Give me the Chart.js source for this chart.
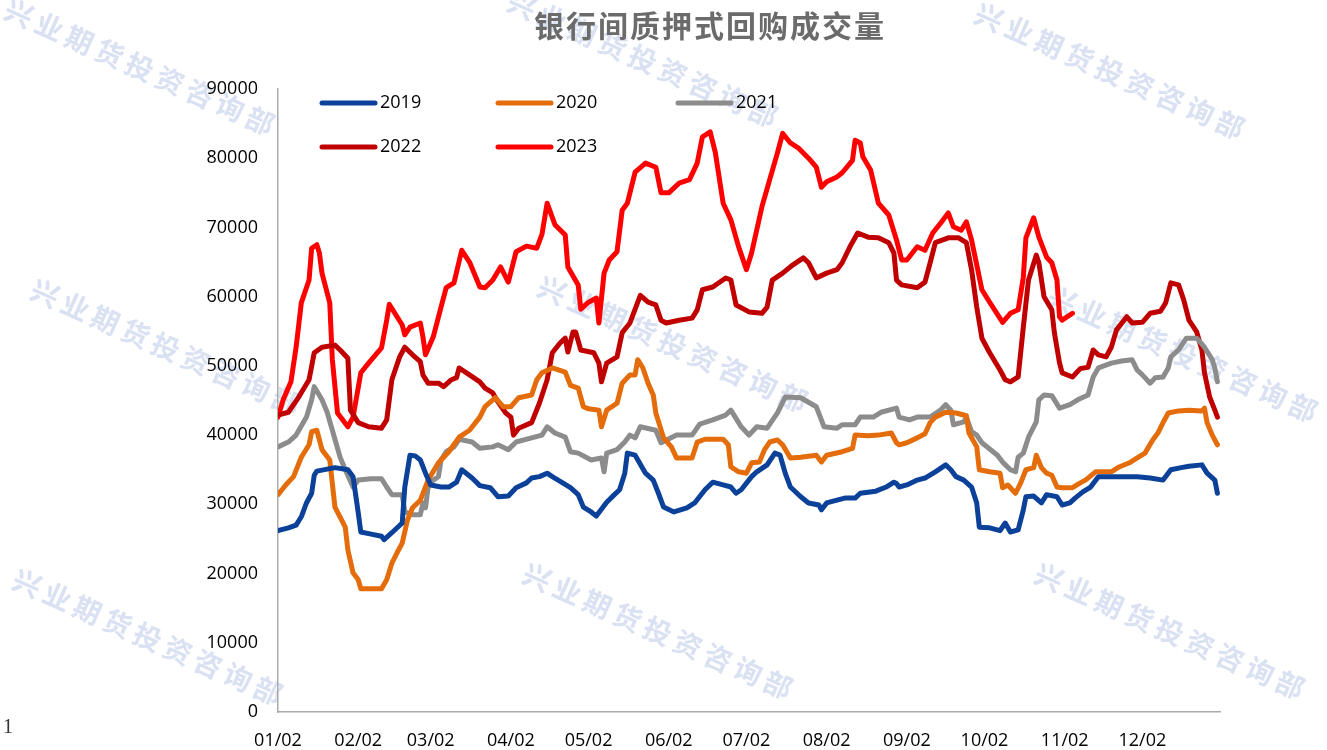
<!doctype html>
<html>
<head>
<meta charset="utf-8">
<title>银行间质押式回购成交量</title>
<script src="https://cdn.jsdelivr.net/npm/chart.js"></script>
<style>
  body { margin: 0; background: #fff; }
</style>
</head>
<body>
<canvas id="myChart" width="1327" height="750"></canvas>
<script>
// x = day of year (1 = 01/02), y = 成交量
const monthDays = [1, 32, 60, 91, 121, 152, 182, 213, 244, 274, 305, 335];
const monthLabels = ['01/02', '02/02', '03/02', '04/02', '05/02', '06/02', '07/02', '08/02', '09/02', '10/02', '11/02', '12/02'];
const yTicks = [0, 10000, 20000, 30000, 40000, 50000, 60000, 70000, 80000, 90000];

const days2019 = [1,5,8,10,12,14,15,16,23,28,30,32,33,37,41,42,45,49,50,52,54,56,58,60,64,67,70,72,76,79,83,86,90,93,97,99,102,105,107,111,114,117,119,122,124,128,131,133,135,136,139,143,146,148,150,154,159,162,166,169,173,176,178,180,184,186,190,193,195,197,199,203,206,210,211,213,217,220,224,226,232,236,239,240,241,244,248,251,255,259,261,263,266,269,271,272,276,280,282,284,287,289,290,293,296,298,302,304,307,309,312,315,318,322,327,333,338,343,346,350,353,358,360,363,364];
const vol2019 = [26200,26600,27000,28200,30200,31600,34200,34800,35300,35000,34000,28800,26000,25700,25400,24900,25900,27300,32500,37100,37000,36400,34500,32800,32500,32500,33200,35000,33800,32700,32400,31100,31200,32400,33100,33800,34000,34500,34000,33100,32400,31400,29600,28900,28300,30300,31400,32100,34500,37400,37100,34500,33500,31600,29600,28900,29500,30200,32100,33200,32800,32500,31600,32100,34000,34700,35700,37400,37100,34500,32500,31100,30200,29900,29200,30200,30600,30900,30900,31600,31900,32500,33200,33000,32500,32800,33500,33800,34700,35700,35000,34000,33500,32500,30200,26700,26600,26200,27300,26000,26300,29200,31100,31200,30200,31400,31100,29900,30200,30900,31800,32500,34000,34000,34000,34000,33800,33500,35000,35300,35500,35700,34500,33500,31600];

const days2020 = [1,4,7,10,13,14,16,18,21,23,27,28,30,32,33,41,43,45,47,49,51,53,56,59,63,67,71,75,79,81,85,88,91,94,99,101,103,107,112,114,117,119,121,125,126,128,132,134,137,139,140,142,144,146,147,150,153,155,161,163,166,173,175,176,179,182,184,187,189,191,194,196,199,203,209,211,213,219,223,224,229,233,238,240,241,244,248,251,253,255,259,263,267,268,271,272,276,280,281,283,286,288,290,293,294,296,298,300,302,304,308,311,313,317,323,326,330,333,336,339,341,343,345,349,353,358,359,360,362,364];
const vol2020 = [31400,32800,34000,36800,38600,40500,40700,37900,36400,29600,26700,23400,20100,19100,17800,17800,19100,21500,23000,24400,27700,29500,30600,33500,36000,37600,39700,40700,42600,44100,45400,44100,44100,45400,45800,48000,49000,49700,49100,47200,46800,44100,43800,43600,41200,43600,44600,47500,48700,48700,50900,49700,47500,45800,43200,39600,38300,36700,36700,39000,39400,39400,38600,35400,34700,34500,36000,36100,37900,39000,39300,38600,36700,36800,37100,36100,37100,37600,38100,40000,39900,40000,40300,38900,38600,38900,39600,40200,41800,42600,43300,43200,42800,40300,38300,35000,34700,34500,32400,32800,31600,33100,35000,35300,37100,35300,34500,34200,32500,32400,32400,33100,33500,34700,34700,35400,36000,36700,37400,39300,40300,41800,43200,43500,43600,43500,43900,41800,40000,38600];

const days2021 = [1,5,8,12,14,15,18,20,22,25,27,30,32,37,41,43,45,49,50,53,56,57,58,59,61,63,64,66,69,71,76,79,84,86,90,93,99,103,105,108,112,114,117,122,126,127,128,132,135,137,139,141,147,149,155,161,164,169,174,176,180,183,186,190,194,197,203,209,212,217,219,224,226,231,234,240,241,245,248,253,257,259,261,262,266,267,269,271,273,279,281,284,286,287,289,291,294,295,297,300,303,307,310,314,316,318,323,327,331,333,335,338,340,343,345,346,349,352,356,359,362,363,364];
const vol2021 = [38300,39000,40000,42600,45100,47000,45100,43300,40700,36800,35000,32500,33500,33700,33700,32500,31400,31400,28900,28500,28500,30200,29500,32500,33500,34000,36400,37600,38300,39400,39000,38100,38300,38600,37900,39000,39600,40000,41200,40300,39700,37600,37400,36400,36700,34700,37400,37900,39000,40000,39600,41200,40700,38900,40000,40000,41600,42200,42900,43600,41200,40000,41200,41000,43200,45500,45400,44100,41200,41000,41500,41500,42600,42600,43300,43900,42600,42200,42600,42600,43600,44400,43600,41500,41900,42600,40500,40000,38900,37100,36100,35000,34700,36800,37400,39700,41900,45100,45800,45700,43900,44400,45100,45800,48400,49700,50400,50700,50900,49400,48700,47500,48300,48400,49700,51300,52300,54000,54000,52700,50900,49700,47700];

const days2022 = [1,5,9,13,15,18,23,25,28,29,32,36,41,43,45,48,50,53,56,57,59,63,65,68,70,71,75,79,81,84,86,89,91,92,94,99,102,105,107,110,112,113,115,116,118,123,125,126,128,132,134,137,141,144,147,149,151,156,161,163,165,169,174,176,178,183,188,190,192,196,200,204,206,209,213,217,219,222,225,229,233,237,239,240,242,248,251,253,255,260,264,267,269,271,273,276,280,282,284,287,289,291,294,295,297,300,301,303,304,308,311,314,316,318,321,323,325,329,331,335,338,342,344,346,349,351,353,356,358,359,361,363,364];
const vol2022 = [42900,43300,45500,48000,51900,52700,53000,52300,51100,43600,41800,41200,41000,42200,48000,51300,52700,51600,50600,48700,47500,47500,47000,48000,48300,49700,48700,47700,46800,46100,44800,43200,42600,40000,41000,41800,44600,48000,51900,53300,54000,52000,54900,54900,52300,51900,50400,47700,50400,51300,54800,56200,60200,59200,58800,56600,56200,56600,56900,58100,61000,61400,62700,62400,58800,57800,57600,58500,62400,63400,64600,65600,64900,62700,63400,63900,64900,67200,69200,68600,68500,67800,66300,62400,61700,61300,62100,64900,67800,68500,68500,67800,63900,58500,54000,51900,49400,48000,47700,48400,55600,62400,66000,64900,60000,58100,54800,50400,49000,48400,49600,49800,52300,51600,51300,52700,55200,57100,56200,56300,57600,57900,59100,62000,61700,59500,56600,54900,52300,49000,45500,43600,42600];

const days2023 = [1,3,6,8,10,13,14,16,17,18,21,22,24,28,30,33,36,41,43,44,47,49,50,52,56,57,58,61,64,66,69,72,75,79,81,84,87,90,93,97,101,103,105,108,112,113,117,118,121,124,125,127,129,132,134,136,139,143,147,149,152,156,160,163,165,168,170,173,176,179,182,184,188,191,194,196,199,202,206,209,211,213,217,219,223,224,226,227,230,233,237,240,242,244,248,251,254,257,260,262,265,267,269,273,276,281,284,287,289,290,293,295,298,300,302,303,304,308];
const vol2023 = [42600,45100,47700,52700,59100,62400,67000,67500,66300,63400,59100,50900,43200,41200,42600,49000,50400,52600,56600,58900,57100,55900,54500,55600,56200,54200,51600,54200,58500,61300,62000,66700,65000,61400,61300,62400,64300,62100,66500,67300,67000,69000,73500,70400,68900,64300,61700,58200,59200,59800,56200,63400,65300,66500,72500,73500,78000,79300,78700,75000,75000,76400,76900,79300,83100,83800,80800,73500,71100,67200,63900,66300,73000,76900,80800,83600,82200,81500,80000,78700,75800,76600,77300,77900,79700,82600,82200,80200,78300,73500,71800,68200,65300,65300,67200,66700,69200,70600,72100,70100,69600,70800,68200,61000,59200,56300,57600,58100,62800,68500,71400,68600,65700,64900,62400,57100,56600,57600];

const seriesNames = ['2019', '2020', '2021', '2022', '2023'];
const seriesColors = ['#0B4199', '#E46C0A', '#8C8C8C', '#C00000', '#FF0000'];
const seriesDays = [days2019, days2020, days2021, days2022, days2023];
const seriesVols = [vol2019, vol2020, vol2021, vol2022, vol2023];

const FONT = '"Open Sans", "Noto Sans", sans-serif';
const CJK = '"Noto Sans CJK SC", sans-serif';

// 水印
const decor = {
    id: 'decor',
    beforeDraw(chart) {
        const c = chart.ctx;
        c.save();
        c.fillStyle = '#ffffff';
        c.fillRect(0, 0, chart.width, chart.height);
        const marks = [[142, 68], [645, 60], [1112, 72], [168, 348], [675, 345], [1185, 355], [150, 638], [660, 632], [1172, 632]];
        c.font = 'bold 28px ' + CJK;
        c.fillStyle = '#D9E1F2';
        c.textAlign = 'center';
        c.textBaseline = 'middle';
        c.letterSpacing = '5px';
        marks.forEach(function(m) {
            c.save();
            c.translate(m[0], m[1]);
            c.rotate(0.42);
            c.fillText('兴业期货投资咨询部', 0, 0);
            c.restore();
        });
        c.restore();
    },
    afterDraw(chart) {
        const c = chart.ctx;
        c.save();
        // title
        c.font = 'bold 30px ' + CJK;
        c.fillStyle = '#6B6B6B';
        c.textAlign = 'center';
        c.textBaseline = 'middle';
        c.letterSpacing = '2px';
        c.fillText('银行间质押式回购成交量', 710, 26);
        c.letterSpacing = '0px';

        // legend, 3 columns x 2 rows
        const pos = [[322, 103], [498, 103], [678, 103], [322, 147], [498, 147]];
        c.font = '18px ' + FONT;
        c.textAlign = 'left';
        c.lineCap = 'round';
        c.lineWidth = 5;
        chart.data.datasets.forEach(function(ds, i) {
            const p = pos[i];
            c.strokeStyle = ds.borderColor;
            c.beginPath();
            c.moveTo(p[0], p[1]);
            c.lineTo(p[0] + 53, p[1]);
            c.stroke();
            c.fillStyle = '#000';
            c.fillText(ds.label, p[0] + 58, p[1]);
        });

        c.font = '20px "Liberation Serif", serif';
        c.fillStyle = '#333';
        c.fillText('1', 3, 728);
        c.restore();
    }
};

const ctx = document.getElementById('myChart').getContext('2d');
const myChart = new Chart(ctx, {
    type: 'line',
    data: {
        datasets: seriesNames.map(function(name, i) {
            return {
                label: name,
                data: seriesDays[i].map(function(d, j) { return { x: d, y: seriesVols[i][j] }; }),
                borderColor: seriesColors[i],
                backgroundColor: seriesColors[i],
                borderWidth: 5,
                borderJoinStyle: 'round',
                borderCapStyle: 'round',
                pointRadius: 0,
                tension: 0
            };
        })
    },
    options: {
        responsive: false,
        animation: false,
        layout: { padding: { left: 0, right: 107, top: 89, bottom: 0 } },
        plugins: {
            legend: { display: false },
            title: { display: false },
            tooltip: { enabled: false }
        },
        scales: {
            x: {
                type: 'linear',
                min: 1,
                max: 365,
                afterBuildTicks: function(axis) {
                    axis.ticks = monthDays.map(function(v) { return { value: v }; });
                },
                afterFit: function(axis) { axis.height = 38; },
                ticks: {
                    autoSkip: false,
                    maxRotation: 0,
                    padding: 18,
                    color: '#000',
                    font: { family: FONT, size: 18 },
                    callback: function(v) {
                        const k = monthDays.indexOf(v);
                        return k >= 0 ? monthLabels[k] : '';
                    }
                },
                grid: { color: 'rgba(0,0,0,0)', drawTicks: false },
                border: { display: true, color: '#ABABAB', width: 1.5 }
            },
            y: {
                min: 0,
                max: 90000,
                afterBuildTicks: function(axis) {
                    axis.ticks = yTicks.map(function(v) { return { value: v }; });
                },
                afterFit: function(axis) { axis.width = 278; },
                ticks: {
                    padding: 20,
                    color: '#000',
                    font: { family: FONT, size: 18 },
                    callback: function(v) { return String(v); }
                },
                grid: { color: 'rgba(0,0,0,0)', drawTicks: false },
                border: { display: true, color: '#ABABAB', width: 1.5 }
            }
        }
    },
    plugins: [decor]
});
</script>
</body>
</html>
